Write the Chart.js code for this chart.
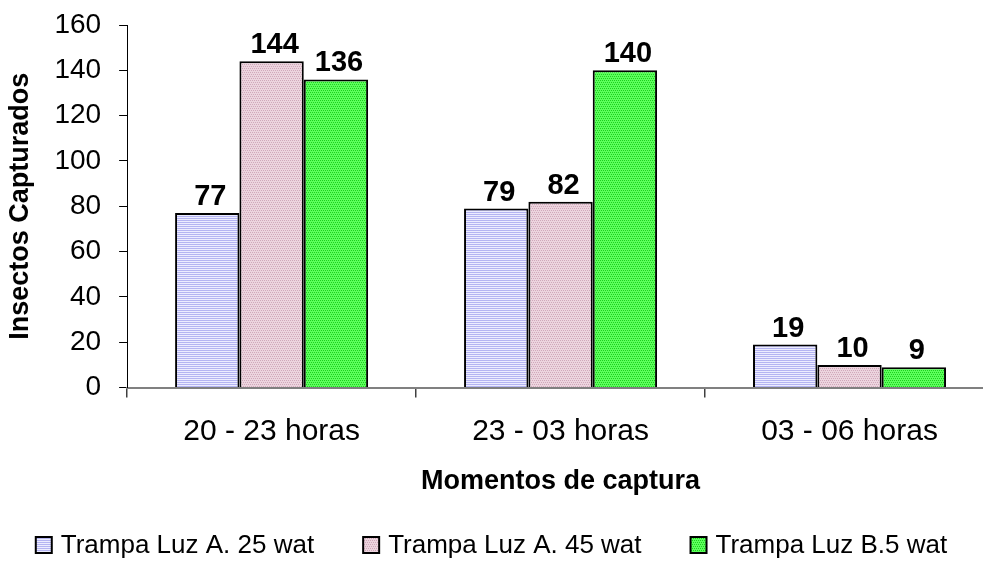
<!DOCTYPE html>
<html>
<head>
<meta charset="utf-8">
<script src="https://cdn.jsdelivr.net/npm/chart.js@4"></script>
<style>
  html, body { margin: 0; padding: 0; background: #fff; overflow: hidden; }
  #wrap { width: 983px; height: 562px; overflow: hidden; }
</style>
</head>
<body>
<div id="wrap"><canvas id="chart" width="1000" height="562"></canvas></div>
<script>
const categories = ['20 - 23 horas', '23 - 03 horas', '03 - 06 horas'];
const seriesNames = ['Trampa Luz A. 25 wat', 'Trampa Luz A. 45 wat', 'Trampa Luz B.5 wat'];
const luzA25 = [77, 79, 19];
const luzA45 = [144, 82, 10];
const luzB5 = [136, 140, 9];
const yTicks = [0, 20, 40, 60, 80, 100, 120, 140, 160];

// small tiles for the hatched fills of the original
function makePattern(draw) {
    const c = document.createElement('canvas');
    c.width = 4; c.height = 4;
    const g = c.getContext('2d');
    draw(g);
    return g.createPattern(c, 'repeat');
}
const bluePattern = makePattern(g => {
    g.fillStyle = '#ececff'; g.fillRect(0, 0, 4, 4);
    g.fillStyle = '#b4b4f2'; g.fillRect(0, 0, 4, 1); g.fillRect(0, 2, 4, 1);
});
const pinkPattern = makePattern(g => {
    g.fillStyle = '#ecd4de'; g.fillRect(0, 0, 4, 4);
    g.fillStyle = '#d0a8ba'; g.fillRect(0, 0, 1, 1); g.fillRect(2, 0, 1, 1);
    g.fillRect(1, 2, 1, 1); g.fillRect(3, 2, 1, 1);
});
const greenPattern = makePattern(g => {
    g.fillStyle = '#5cff5c'; g.fillRect(0, 0, 4, 4);
    g.fillStyle = '#1ed01e'; g.fillRect(0, 0, 1, 1); g.fillRect(2, 0, 1, 1);
    g.fillRect(1, 2, 1, 1); g.fillRect(3, 2, 1, 1);
});

const font = 'Arial, "Liberation Sans", sans-serif';

const valueLabels = {
    id: 'valueLabels',
    afterDatasetsDraw(chart) {
        const ctx = chart.ctx;
        ctx.save();
        ctx.font = 'bold 29px ' + font;
        ctx.fillStyle = '#000';
        ctx.textAlign = 'center';
        ctx.textBaseline = 'alphabetic';
        chart.data.datasets.forEach((ds, i) => {
            chart.getDatasetMeta(i).data.forEach((bar, j) => {
                ctx.fillText(ds.data[j], bar.x + 3, bar.y - 8);
            });
        });
        ctx.restore();
    }
};

// legend drawn by hand so box/text spacing matches the original
const bottomLegend = {
    id: 'bottomLegend',
    afterDraw(chart) {
        const ctx = chart.ctx;
        const box = 16, gap = 9, spacing = 49;
        ctx.save();
        ctx.font = '26px ' + font;
        const widths = chart.data.datasets.map(ds => ctx.measureText(ds.label).width);
        const total = widths.reduce((a, w) => a + w + box + gap, 0) + spacing * (widths.length - 1);
        let x = 983 / 2 - total / 2;
        const yMid = 545;
        chart.data.datasets.forEach((ds, i) => {
            ctx.fillStyle = ds.backgroundColor;
            ctx.fillRect(x, yMid - box / 2, box, box);
            ctx.lineWidth = 2;
            ctx.strokeStyle = '#000';
            ctx.strokeRect(x, yMid - box / 2, box, box);
            ctx.fillStyle = '#000';
            ctx.textAlign = 'left';
            ctx.textBaseline = 'middle';
            ctx.fillText(ds.label, x + box + gap, yMid + 1);
            x += box + gap + widths[i] + spacing;
        });
        ctx.restore();
    }
};

const chart = new Chart(document.getElementById('chart').getContext('2d'), {
    type: 'bar',
    data: {
        labels: categories,
        datasets: [
            { label: seriesNames[0], data: luzA25, backgroundColor: bluePattern, borderColor: '#000', borderWidth: 2 },
            { label: seriesNames[1], data: luzA45, backgroundColor: pinkPattern, borderColor: '#000', borderWidth: 2 },
            { label: seriesNames[2], data: luzB5, backgroundColor: greenPattern, borderColor: '#000', borderWidth: 2 }
        ]
    },
    options: {
        responsive: false,
        animation: false,
        layout: { padding: { left: 4, right: 6, top: 23, bottom: 64 } },
        datasets: { bar: { categoryPercentage: 0.668, barPercentage: 1.0 } },
        plugins: {
            legend: { display: false },
            tooltip: { enabled: false }
        },
        scales: {
            x: {
                grid: { drawOnChartArea: false, offset: true, tickLength: 10, color: '#404040', lineWidth: 1.5 },
                border: { color: '#808080', width: 2 },
                ticks: { color: '#000', font: { family: font, size: 30, lineHeight: 1.0 }, padding: 19 },
                title: {
                    display: true, text: 'Momentos de captura', color: '#000',
                    font: { family: font, size: 27, weight: 'bold' }, padding: { top: 0, bottom: 0 }
                }
            },
            y: {
                min: 0, max: 160,
                afterBuildTicks: axis => { axis.ticks = yTicks.map(v => ({ value: v })); },
                grid: { drawOnChartArea: false, tickLength: 8, color: '#000' },
                border: { color: '#000', width: 1 },
                ticks: { color: '#000', font: { family: font, size: 28, lineHeight: 0.5 }, padding: 18 },
                title: {
                    display: true, text: 'Insectos Capturados', color: '#000',
                    font: { family: font, size: 27, weight: 'bold' }, padding: { top: 0, bottom: 0 }
                }
            }
        }
    },
    plugins: [valueLabels, bottomLegend]
});
</script>
</body>
</html>
